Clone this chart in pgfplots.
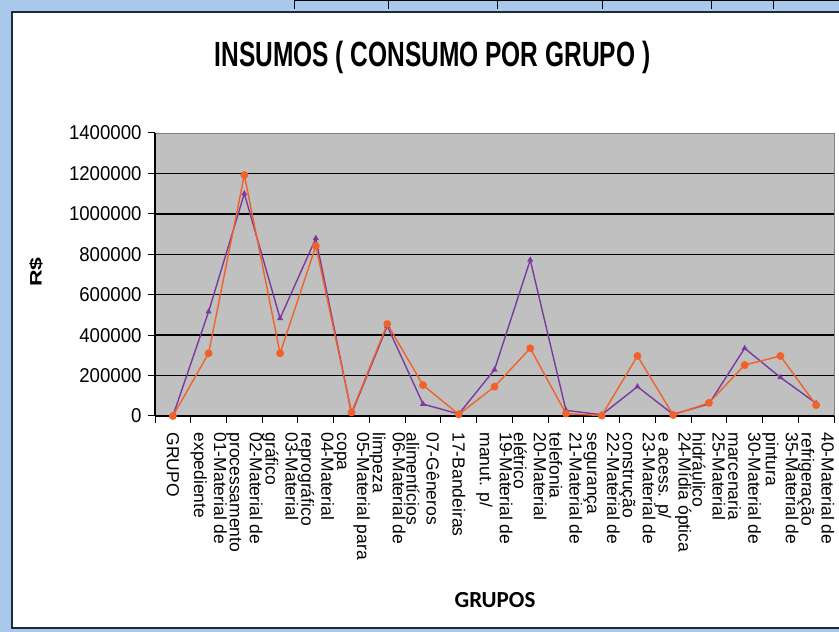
\documentclass[border=0pt]{standalone}
\usepackage{pgfplots}
\pgfplotsset{compat=1.18}
\usepackage{fontspec}
\setmainfont{Liberation Sans}
\newfontfamily\carlito{Carlito}
\usepackage{graphicx}
\definecolor{bgblue}{HTML}{A8C8EC}
\definecolor{plotgray}{HTML}{C0C0C0}
\definecolor{serpurple}{HTML}{7B3A9E}
\definecolor{serorange}{HTML}{F0622A}
\definecolor{frame}{HTML}{1E2B38}

\pgfplotstableread{
x purple orange
0 0 0
1 516000 310000
2 1100000 1192000
3 483000 310000
4 879000 841000
5 12000 18000
6 445000 455000
7 59000 153000
8 10000 8000
9 229000 145000
10 772000 335000
11 28000 12000
12 6000 2000
13 145000 297000
14 8000 5000
15 60000 65000
16 335000 252000
17 191000 297000
18 63000 54000
}\datatable

\begin{document}
\begin{tikzpicture}
\path[use as bounding box] (0pt,0pt) rectangle (839pt,632pt);
\fill[bgblue] (0pt,0pt) rectangle (839pt,632pt);
\fill[white] (12pt,4pt) rectangle (845pt,620pt);
\draw[frame, line width=2pt] (845pt,620pt) -- (12pt,620pt) -- (12pt,4pt) -- (845pt,4pt);
\draw[black, line width=1.5pt] (294pt,631.3pt) -- (839pt,631.3pt);
\foreach \xx in {294,388,497,602,711,773} \draw[black, line width=1pt] (\xx pt,632pt) -- (\xx pt,623pt);

\begin{axis}[
  at={(155pt,216pt)}, anchor=south west,
  scale only axis, width=679pt, height=283pt,
  xmin=-0.5, xmax=18.5, ymin=0, ymax=1400000,
  axis background/.style={fill=plotgray, draw=gray},
  axis x line*=bottom, axis y line*=left,
  axis line style={black, line width=1.2pt, -},
  tick align=outside, major tick length=7pt,
  every tick/.style={black, line width=1pt},
  ytick={0,200000,...,1400000},
  scaled y ticks=false,
  yticklabel style={xshift=-3pt, /pgf/number format/fixed, /pgf/number format/1000 sep={},
    /pgf/number format/assume math mode=true,
    font=\fontsize{20}{22}\selectfont, anchor=east},
  yticklabel={\scalebox{0.93}[1]{\pgfmathprintnumber{\tick}}},
  extra y ticks={200000,400000,...,1200000},
  extra y tick labels={},
  extra y tick style={grid=major, major grid style={black, line width=1.5pt}},
  xtick={0,...,18},
  xtick style={draw=none},
  xticklabels={GRUPO,
    {01-Material de\\expediente},
    {02-Material de\\processamento},
    {03-Material\\gráfico},
    {04-Material\\reprográfico},
    {05-Material para\\copa},
    {06-Material de\\limpeza},
    {07-Gêneros\\alimentícios},
    {17-Bandeiras},
    {19-Material de\\manut. p/},
    {20-Material\\elétrico},
    {21-Material de\\telefonia},
    {22-Material de\\segurança},
    {23-Material de\\construção},
    {24-Mídia óptica\\e acess. p/},
    {25-Material\\hidráulico},
    {30-Material de\\marcenaria},
    {35-Material de\\pintura},
    {40-Material de\\refrigeração}},
  xticklabel style={yshift=-6pt, rotate=-90, anchor=west, align=left,
    font=\fontsize{17.5}{20}\selectfont},
  extra x ticks={-0.5,0.5,...,18.5},
  extra x tick labels={},
  extra x tick style={xtick style={draw=black, line width=1pt}},
  clip=false,
]
\addplot[serpurple, line width=1.4pt, mark=triangle*, mark size=2.2pt,
  mark options={solid, fill=serpurple}] table[x=x, y=purple] {\datatable};
\addplot[serorange, line width=1.4pt, mark=*, mark size=3.2pt,
  mark options={solid, fill=serorange, draw=serorange}] table[x=x, y=orange] {\datatable};
\end{axis}

\node at (432.5pt,574.5pt) {\scalebox{0.7}[1]{\fontsize{35}{38}\selectfont\bfseries INSUMOS ( CONSUMO POR GRUPO )}};
\node[rotate=90] at (36pt,360pt) {\scalebox{1}[0.72]{\fontsize{23}{25}\selectfont\bfseries R\$}};
\node at (495pt,32pt) {\carlito\bfseries\fontsize{23}{25}\selectfont GRUPOS};
\end{tikzpicture}
\end{document}
